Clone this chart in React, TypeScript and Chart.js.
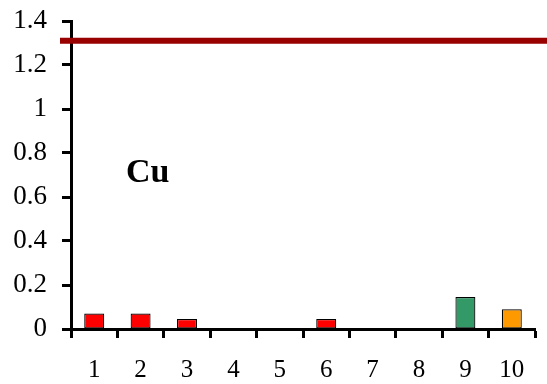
import React, { useEffect, useRef } from "react";
import { Chart, registerables } from "chart.js";

Chart.register(...registerables);

const categories = ["1", "2", "3", "4", "5", "6", "7", "8", "9", "10"];
const values = [0.07, 0.07, 0.045, 0, 0, 0.045, 0, 0, 0.145, 0.09];
const barColors = ["#FF0000", "#FF0000", "#FF0000", "#FF0000", "#FF0000", "#FF0000", "#FF0000", "#FF0000", "#339966", "#FF9900"];
const yTicks = [0, 0.2, 0.4, 0.6, 0.8, 1, 1.2, 1.4];
const limitValue = 1.31;
const elementLabel = "Cu";

const FONT = "'Liberation Serif', 'Times New Roman', serif";

export default function App() {
  const ref = useRef<HTMLCanvasElement | null>(null);

  useEffect(() => {
    if (!ref.current) return;
    const overlay = {
      id: "overlay",
      afterDraw(chart: any) {
        const { ctx, chartArea, scales } = chart;
        const y = scales.y.getPixelForValue(limitValue);
        ctx.save();
        ctx.strokeStyle = "#990000";
        ctx.lineWidth = 6;
        ctx.beginPath();
        ctx.moveTo(chartArea.left - 11, y);
        ctx.lineTo(chart.width, y);
        ctx.stroke();
        ctx.fillStyle = "#000000";
        ctx.font = `bold 34px ${FONT}`;
        ctx.textBaseline = "alphabetic";
        ctx.textAlign = "left";
        ctx.fillText(elementLabel, chartArea.left + 55, scales.y.getPixelForValue(0.67));
        ctx.restore();
      },
    };
    const chart = new Chart(ref.current, {
      type: "bar",
      data: {
        labels: categories,
        datasets: [
          {
            data: values,
            backgroundColor: barColors,
            borderColor: "#000000",
            borderWidth: 1.2,
            borderSkipped: false,
            categoryPercentage: 1,
            barPercentage: 0.43,
          },
        ],
      },
      options: {
        animation: false,
        responsive: false,
        maintainAspectRatio: false,
        layout: { padding: { top: 21, right: 12, left: 0, bottom: 0 } },
        plugins: { legend: { display: false }, tooltip: { enabled: false } },
        scales: {
          x: {
            offset: true,
            grid: {
              offset: true,
              drawOnChartArea: false,
              drawTicks: true,
              tickLength: 9,
              tickWidth: 3,
              tickColor: "#000000",
            },
            border: { display: true, color: "#000000", width: 3 },
            ticks: { color: "#000000", font: { family: FONT, size: 25 }, padding: 17, maxRotation: 0 },
            afterFit: (s: any) => {
              s.height = 55;
              s.paddingRight = 0;
              s.paddingLeft = 0;
            },
          },
          y: {
            min: 0,
            max: 1.4,
            afterBuildTicks: (s: any) => {
              s.ticks = yTicks.map((v) => ({ value: v }));
            },
            grid: {
              drawOnChartArea: false,
              drawTicks: true,
              tickLength: 9,
              tickWidth: 3,
              tickColor: "#000000",
            },
            border: { display: true, color: "#000000", width: 3 },
            ticks: {
              color: "#000000",
              font: { family: FONT, size: 27 },
              padding: 15,
              callback: (v: any) => String(Math.round(Number(v) * 10) / 10),
            },
            afterFit: (s: any) => {
              s.width = 71;
              s.paddingTop = 0;
              s.paddingBottom = 0;
            },
          },
        },
      },
      plugins: [overlay],
    });
    return () => chart.destroy();
  }, []);

  return (
    <div style={{ position: "fixed", left: 0, top: 0, width: 547, height: 384, background: "#fff" }}>
      <canvas ref={ref} width={547} height={384} style={{ width: 547, height: 384, display: "block" }} />
    </div>
  );
}
